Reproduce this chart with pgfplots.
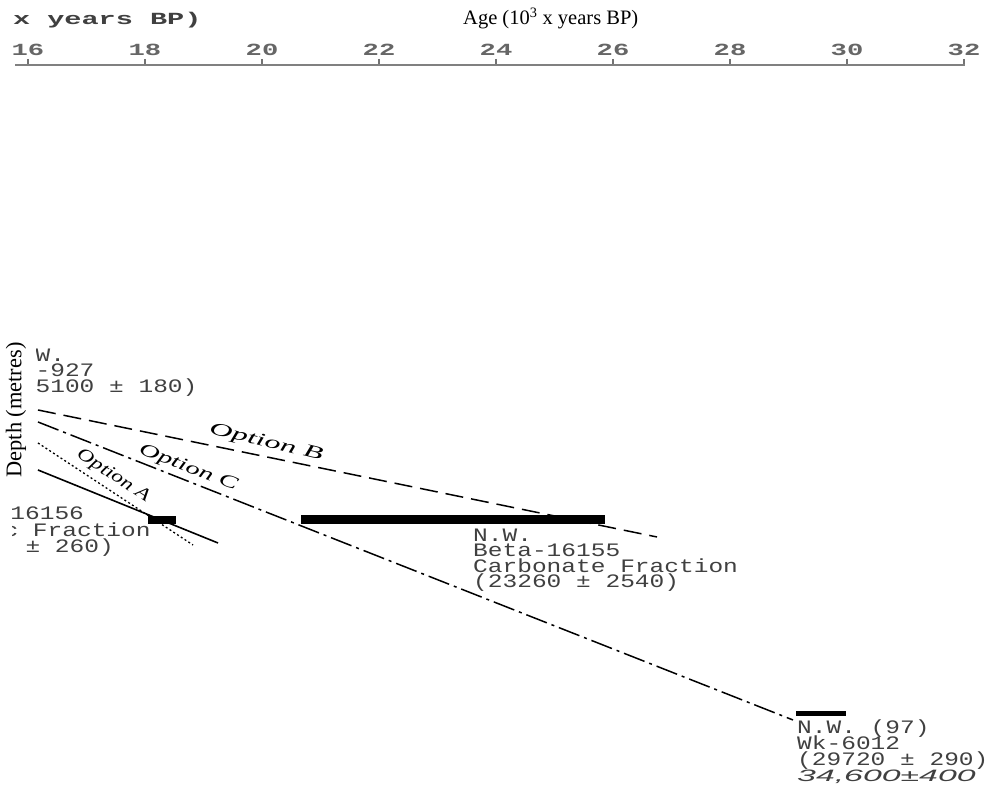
\documentclass[border=0pt]{standalone}
\usepackage{fontspec}
\setmainfont{Liberation Serif}
\newfontfamily\mono{Liberation Mono}
\newfontfamily\sansf{Liberation Sans}
\usepackage{graphicx}
\usepackage{pgfplots}
\pgfplotsset{compat=1.18}

% the scanned figure is stretched sideways, so the mono text is too
\newcommand\tl[1]{\scalebox{1.6}[1]{#1}}
\newcommand\lab[1]{\scalebox{1.29}[1]{#1}}
\tikzset{
  lbl/.style={font=\mono\fontsize{19}{19}\selectfont, text=black!75, inner sep=0pt},
  opt/.style={font=\itshape\fontsize{18}{18}\selectfont, inner sep=0pt},
}

\begin{document}
\begin{tikzpicture}
\begin{axis}[
  scale only axis, width=999pt, height=721pt,
  xmin=15.5214, xmax=32.598, ymin=-786, ymax=-65,
  axis x line*=top, axis y line=none,
  x axis line style={draw=none},
  xtick={16,18,20,22,24,26,28,30,32},
  xticklabels={\tl{16},\tl{18},\tl{20},\tl{22},\tl{24},\tl{26},\tl{28},\tl{30},\tl{32}},
  tick align=outside, major tick length=6pt,
  tick style={black!55, line width=1.2pt},
  xticklabel style={font=\mono\bfseries\fontsize{17}{17}\selectfont, text=black!60},
  clip=false,
]
% age axis line
\addplot[black!50, line width=1.6pt] coordinates {(15.778,-65) (32.017,-65)};

% Option B
\addplot[black, line width=1.5pt, dash pattern=on 18pt off 8pt] coordinates {(16.171,-410) (26.752,-537)};
% Option C
\addplot[black, line width=1.5pt, dash pattern=on 22pt off 5pt on 3pt off 5pt] coordinates {(16.171,-422) (29.077,-720)};
% Option A
\addplot[black, line width=1.3pt, dash pattern=on 2pt off 2.5pt] coordinates {(16.171,-443) (18.821,-545)};
% solid
\addplot[black, line width=1.6pt] coordinates {(16.171,-470) (19.248,-543)};

% dated ranges
\addplot[black, line width=8pt] coordinates {(18.051,-520) (18.530,-520)};
\addplot[black, line width=9pt] coordinates {(20.667,-520) (25.863,-520)};
\addplot[black, line width=5pt] coordinates {(29.128,-714) (29.983,-714)};

% old bold title, mostly cut off
\node[anchor=base east, font=\mono\bfseries\fontsize{17}{17}\selectfont, text=black!75, inner sep=0pt]
  at (axis cs:18.97,-25) {\scalebox{1.68}[1]{Age (10\textsuperscript{3} x years BP)}};
\node[anchor=base west, font=\fontsize{20.5}{20.5}\selectfont, inner sep=0pt]
  at (axis cs:23.436,-25) {Age (10\textsuperscript{3} x years BP)};

% sample labels
\node[lbl, anchor=base west] at (axis cs:15.624,-362) {\lab{N.W.}};
\node[lbl, anchor=base west] at (axis cs:15.624,-377) {\lab{Wk-927}};
\node[lbl, anchor=base west] at (axis cs:15.624,-393) {\lab{(15100 ± 180)}};

\node[lbl, anchor=base east] at (axis cs:16.960,-520) {\lab{Beta-16156}};
\node[lbl, anchor=base east] at (axis cs:18.100,-537) {\lab{Organic Fraction}};
\node[lbl, anchor=base east] at (axis cs:17.470,-553) {\lab{(18290 ± 260)}};

\node[lbl, anchor=base west] at (axis cs:23.607,-542) {\lab{N.W.}};
\node[lbl, anchor=base west] at (axis cs:23.607,-557) {\lab{Beta-16155}};
\node[lbl, anchor=base west] at (axis cs:23.607,-573) {\lab{Carbonate Fraction}};
\node[lbl, anchor=base west] at (axis cs:23.607,-588) {\lab{(23260 ± 2540)}};

\node[lbl, anchor=base west] at (axis cs:29.145,-734) {\lab{N.W. (97)}};
\node[lbl, anchor=base west] at (axis cs:29.145,-750) {\lab{Wk-6012}};
\node[lbl, anchor=base west] at (axis cs:29.145,-766) {\lab{(29720 ± 290)}};
\node[anchor=base west, font=\sansf\itshape\fontsize{16.5}{16.5}\selectfont, text=black!75, inner sep=0pt]
  at (axis cs:29.145,-782) {\scalebox{2.05}[1]{34,600±400}};

% option names along the lines
\node[opt, rotate=-13.4] at (axis cs:20.068,-443) {\scalebox{1.77}[1]{Option B}};
\node[opt, rotate=-20.9] at (axis cs:18.735,-468) {\scalebox{1.56}[1]{Option C}};
\node[opt, rotate=-32.7] at (axis cs:17.453,-476) {\scalebox{1.27}[1]{Option A}};

\coordinate (depthpos) at (axis cs:15.795,-410);
\coordinate (bbA) at (axis cs:15.5214,-786);
\coordinate (bbB) at (axis cs:32.598,0);
\coordinate (scanL) at (axis cs:15.727,0);
\end{axis}
% the scan starts a little in from the left edge
\fill[white] (bbA) rectangle (scanL);
% new depth label, its white box hides the left edge of the scan
\node[rotate=90, fill=white, inner sep=10pt, font=\fontsize{22.4}{22.4}\selectfont]
  at (depthpos) {Depth (metres)};
\pgfresetboundingbox
\path[use as bounding box] (bbA) rectangle (bbB);
\end{tikzpicture}
\end{document}
